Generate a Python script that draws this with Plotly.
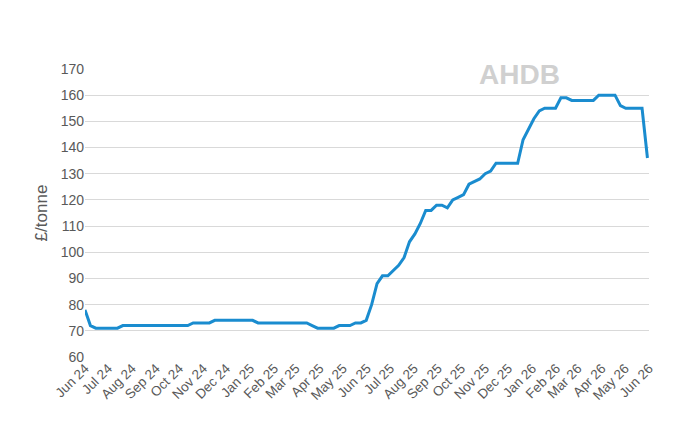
import pandas as pd
import plotly.graph_objects as go

# weekly price, £/tonne, Jun 24 - Jun 26
prices = [78, 72, 71, 71, 71, 71, 71, 72, 72, 72,
          72, 72, 72, 72, 72, 72, 72, 72, 72, 72,
          73, 73, 73, 73, 74, 74, 74, 74, 74, 74,
          74, 74, 73, 73, 73, 73, 73, 73, 73, 73,
          73, 73, 72, 71, 71, 71, 71, 72, 72, 72,
          73, 73, 74, 80, 88, 91, 91, 93, 95, 98,
          104, 107, 111, 116, 116, 118, 118, 117, 120, 121,
          122, 126, 127, 128, 130, 131, 134, 134, 134, 134,
          134, 143, 147, 151, 154, 155, 155, 155, 159, 159,
          158, 158, 158, 158, 158, 160, 160, 160, 160, 156,
          155, 155, 155, 155, 136]
dates = pd.date_range("2024-06-01", periods=len(prices), freq="7D")

fig = go.Figure()
fig.add_trace(go.Scatter(x=dates, y=prices, mode="lines",
                         line=dict(color="#1a8ccf", width=3)))

fig.update_layout(
    width=679, height=438,
    margin=dict(l=77, r=38, t=61, b=89),
    plot_bgcolor="white", paper_bgcolor="white",
    font=dict(family="Liberation Sans, Arial", size=14, color="#595959"),
    showlegend=False,
)
fig.update_xaxes(
    tickformat="%b %y", dtick="M1", tick0="2024-06-01", tickangle=-45,
    range=["2024-06-01", "2026-06-01"], showgrid=False,
    showline=False, ticks="", automargin=False,
    tickfont=dict(size=13.5),
)
fig.update_yaxes(
    range=[60, 170], dtick=10, gridcolor="#d9d9d9", zeroline=False,
    title=dict(text="£/tonne", standoff=8), automargin=False,
)
fig.add_annotation(x=0.845, y=1.04, xref="paper", yref="paper",
                   text="<b>AHDB</b>", showarrow=False,
                   font=dict(size=28, color="#d0d0d0", family="Liberation Sans"),
                   bgcolor="white")

fig.write_html("out.html")
